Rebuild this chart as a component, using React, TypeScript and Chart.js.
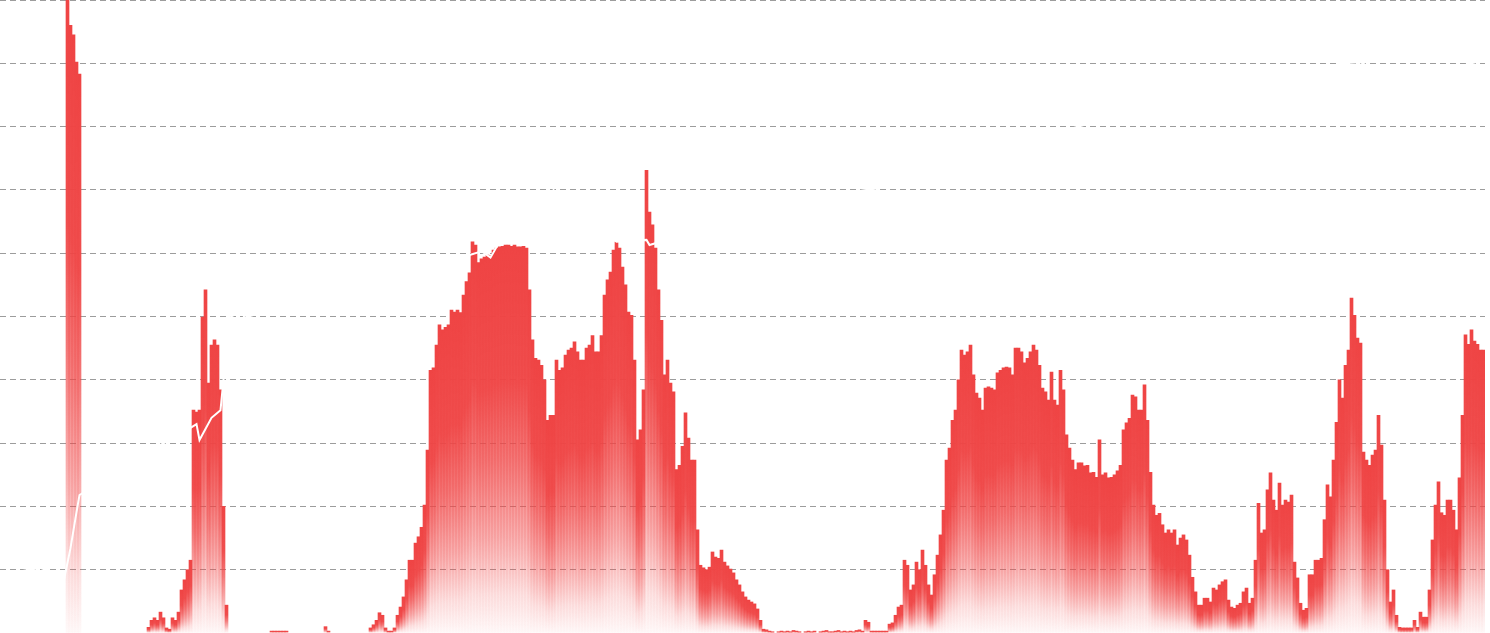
import React, { useEffect, useRef } from 'react';
import { Chart, registerables } from 'chart.js';

Chart.register(...registerables);

// Bar series (0-100 scale, one value per category)
const values: number[] = [
  0, 0, 0, 0, 0, 0, 0, 0, 0, 0,
  0, 0, 0, 0, 0, 0, 0, 0, 0, 0,
  0, 0, 100, 96, 94.5, 90.2, 88.3, 0, 0, 0,
  0, 0, 0, 0, 0, 0, 0, 0, 0, 0,
  0, 0, 0, 0, 0, 0, 0, 0, 0, 0.9,
  2, 2.4, 2, 3.3, 2.4, 0.8, 0.6, 2.4, 2, 3.3,
  6.8, 8.4, 10, 11.5, 35.2, 34.9, 35.2, 49.9, 54.2, 39.5,
  45.5, 46.3, 45.5, 38.4, 20, 4.4, 0, 0, 0, 0,
  0, 0, 0, 0, 0, 0, 0, 0, 0, 0,
  0.3, 0.3, 0.3, 0.3, 0.3, 0.3, 0, 0, 0, 0,
  0, 0, 0, 0, 0, 0, 0, 0, 1, 0.3,
  0, 0, 0, 0, 0, 0, 0, 0, 0, 0,
  0, 0, 0, 0.8, 1.3, 2, 3.2, 2.8, 0.8, 0.3,
  0.3, 0.8, 2.8, 4.1, 5.7, 8.4, 11.5, 11.5, 14.2, 15.2,
  16.7, 20.2, 28.9, 41.5, 41.9, 45.5, 48.7, 47.9, 48.3, 48.7,
  51, 50.7, 51, 50.6, 53.4, 55.5, 56.9, 61.8, 61.3, 58.5,
  59.1, 59.4, 59.7, 59.6, 60.5, 60.8, 61, 61.1, 61.3, 61.3,
  61.1, 61.3, 61, 61, 61.1, 60.8, 54.2, 46.3, 43.4, 43.1,
  42.3, 40, 33.6, 34.4, 34.4, 43.1, 41.5, 41.9, 43.9, 44.7,
  45, 46, 44.4, 43.1, 43.1, 45, 45.5, 47, 44.4, 44.4,
  47, 53.4, 55.8, 57, 60.5, 61.8, 60.8, 57.8, 55, 50.7,
  50.2, 43.1, 30.5, 32.1, 38.4, 73.1, 66.5, 64.5, 60.8, 54.2,
  49.4, 40.8, 43.1, 39.5, 38.1, 25.8, 26.5, 29.5, 34.8, 30.8,
  27.3, 27.3, 16.3, 10.7, 10.3, 10, 10.4, 12.8, 12, 11.8,
  13.1, 11.2, 10.6, 10.1, 9.5, 8.4, 7.6, 6.5, 5.7, 5.2,
  4.9, 4.6, 3.8, 2, 0.6, 0.5, 0.3, 0.2, 0, 0.2,
  0.3, 0.2, 0.3, 0.2, 0.4, 0.3, 0.2, 0, 0.2, 0.3,
  0.2, 0.3, 0, 0.2, 0.3, 0.4, 0.2, 0.2, 0.3, 0.4,
  0.2, 0.3, 0.2, 0.3, 0.2, 0.4, 0.5, 0.3, 2, 1.7,
  0.3, 0.3, 0.3, 0.3, 0.3, 0.3, 1.4, 1.6, 2.8, 4.1,
  4.4, 11.5, 10.7, 6.8, 7.6, 11.2, 10, 13.1, 10.7, 7.6,
  6, 9.2, 12.3, 15.5, 19.4, 27.3, 29.2, 33.6, 35.2, 40,
  44.7, 43.9, 44.4, 45.5, 40.8, 37.9, 37.1, 35.2, 38.7, 38.9,
  38.7, 38.4, 41.1, 41.5, 41.9, 42, 41.9, 40.8, 45, 45,
  44.4, 42.7, 43.4, 44.4, 45.5, 44.7, 42.3, 38.7, 38.1, 36.8,
  41.2, 36.8, 36, 41.5, 38.4, 31.3, 29.2, 27.3, 25.8, 26.9,
  26.9, 26.4, 26.5, 25.3, 25.4, 24.6, 30.5, 25, 25.3, 24.5,
  24.6, 25, 25.6, 26.5, 32.1, 33.2, 33.9, 37.6, 37.3, 35.2,
  35.2, 39.2, 33.6, 25.4, 20.2, 18.6, 18.9, 17.1, 15.8, 16.3,
  15.8, 16.3, 13.9, 15, 15.5, 14.7, 12.3, 8.8, 6.5, 4.4,
  4.4, 5.5, 5.5, 4.9, 7.1, 6.8, 7.6, 8.1, 8.4, 5.2,
  4.1, 3.9, 4.4, 4.7, 6.5, 7.1, 4.7, 5.5, 11.5, 20.5,
  15.8, 16.3, 22.6, 25.3, 21, 19.4, 23.7, 20.2, 21, 20.7,
  21.8, 11.2, 8.7, 4.7, 3.6, 3.9, 9.2, 9.2, 11.5, 11.5,
  11.8, 17.9, 23.4, 21.5, 27.3, 33.3, 40, 37.1, 42.3, 44.7,
  52.9, 50.2, 46.6, 45.8, 28.6, 27.3, 26.5, 28.1, 28.9, 34.4,
  29.7, 21, 10, 4.9, 6.8, 2.8, 0.9, 0.8, 0.8, 0.8,
  0.8, 2, 0.9, 3.3, 2.5, 2.5, 6.8, 14.7, 20.2, 23.9,
  19, 18.6, 21, 21, 19.4, 16.3, 24.5, 34.4, 47.1, 45.6,
  47.9, 46.1, 45.6, 44.7, 44.7,
];

// White overlay line: category index -> value (sparse readings)
const priceIdx: number[] = [
  0, 5, 13, 21, 23, 25, 26, 40, 50, 63, 65, 66, 70, 73, 76, 80, 81, 100, 133,
  153, 156, 160, 163, 166, 173, 184, 193, 205, 215, 216, 233, 266, 300, 333,
  366, 400, 433, 447, 453, 466, 490, 494,
];
const priceVal: number[] = [
  5.2, 9.6, 10.3, 8.8, 13.4, 19.1, 21.8, 25.8, 28.9, 32.4, 33, 30.5, 34, 35.2,
  49.8, 51, 49.8, 52.6, 54.2, 55.5, 59.7, 60.3, 59.3, 61.8, 62.5, 70, 66, 61.8,
  62.1, 61.3, 63.7, 68.4, 70.8, 76.3, 81, 84.2, 87.4, 90, 90.2, 86.6, 90, 90.5,
];

const yMin = 0;
const yMax = 100;
const yStep = 10;

const RED = '239,68,68';

function barFill(ctx: any) {
  if (ctx.type !== 'data') return `rgb(${RED})`;
  const chart = ctx.chart;
  const area = chart.chartArea;
  const y = chart.scales?.y;
  const v = ctx.parsed ? ctx.parsed.y : ctx.raw;
  if (!area || !y || !v) return `rgba(${RED},0)`;
  const top = y.getPixelForValue(v);
  const base = y.getPixelForValue(0);
  if (base - top < 1) return `rgba(${RED},0.8)`;
  const g = chart.ctx.createLinearGradient(0, top, 0, base);
  g.addColorStop(0, `rgba(${RED},1)`);
  g.addColorStop(0.35, `rgba(${RED},0.95)`);
  g.addColorStop(0.55, `rgba(${RED},0.72)`);
  g.addColorStop(0.75, `rgba(${RED},0.42)`);
  g.addColorStop(0.9, `rgba(${RED},0.15)`);
  g.addColorStop(1, `rgba(${RED},0.03)`);
  return g;
}

export default function App() {
  const ref = useRef<HTMLCanvasElement>(null);
  useEffect(() => {
    const labels = values.map((_, i) => String(i));
    const price: (number | null)[] = values.map(() => null);
    priceIdx.forEach((ix, k) => {
      price[ix] = priceVal[k];
    });
    const chart = new Chart(ref.current!, {
      type: 'bar',
      data: {
        labels,
        datasets: [
          {
            type: 'line',
            data: price,
            borderColor: '#ffffff',
            borderWidth: 2,
            pointRadius: 0,
            pointHoverRadius: 0,
            spanGaps: true,
            tension: 0,
            fill: false,
            order: 0,
          } as any,
          {
            type: 'bar',
            data: values,
            backgroundColor: barFill as any,
            borderWidth: 0,
            barPercentage: 1,
            categoryPercentage: 1,
            order: 1,
          },
        ],
      },
      options: {
        animation: false,
        responsive: true,
        maintainAspectRatio: false,
        layout: { padding: 0 },
        events: [],
        plugins: {
          legend: { display: false },
          tooltip: { enabled: false },
        },
        scales: {
          x: { display: false },
          y: {
            min: yMin,
            max: yMax,
            ticks: { display: false, stepSize: yStep },
            border: { display: false, dash: [6, 4] },
            grid: {
              drawTicks: false,
              lineWidth: 1,
              color: (c: any) => (c.tick && c.tick.value === yMin ? 'rgba(0,0,0,0)' : '#9c9c9c'),
            },
          },
        },
      },
    });
    return () => chart.destroy();
  }, []);
  return (
    <div style={{ position: 'fixed', left: 0, top: 0, width: 1485, height: 633, background: '#fff' }}>
      <canvas ref={ref} />
    </div>
  );
}
